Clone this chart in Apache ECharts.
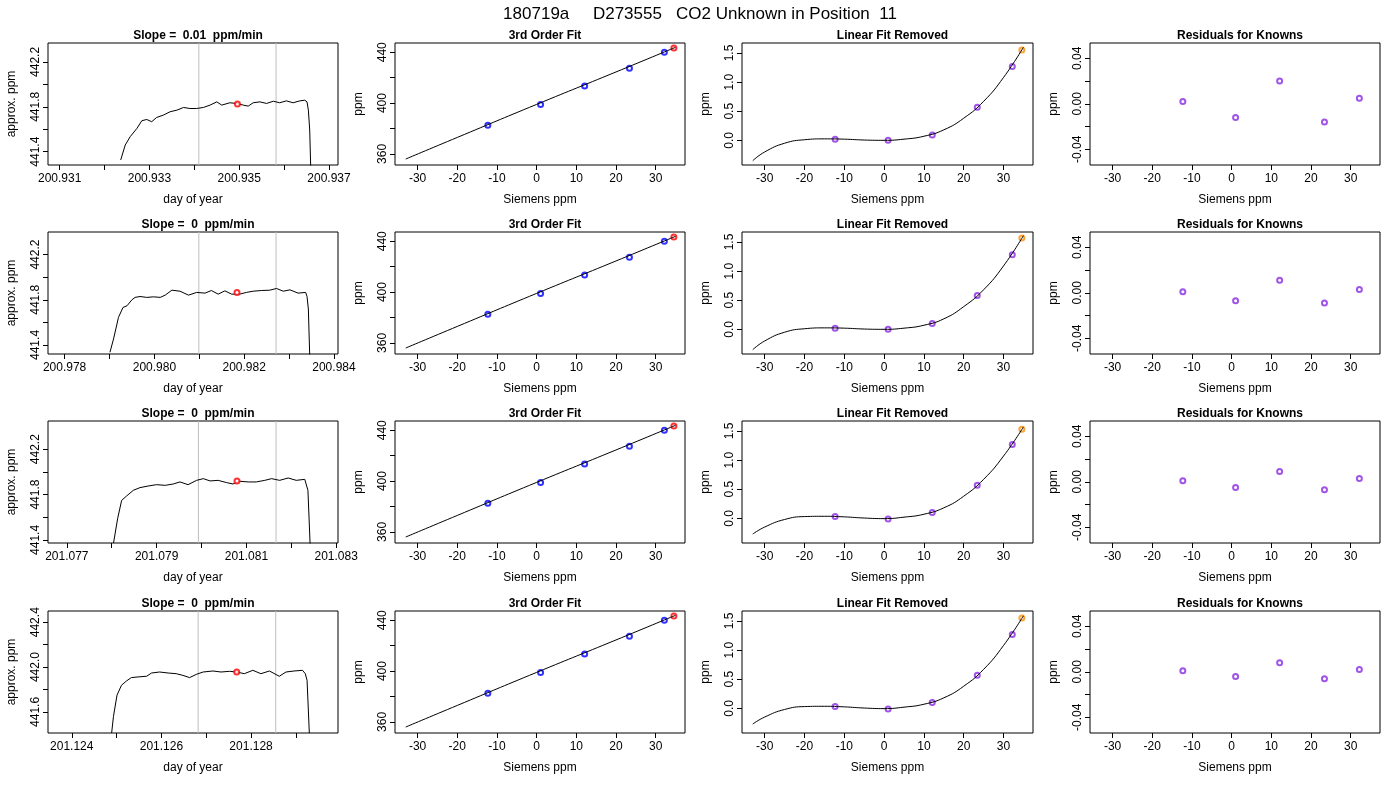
<!DOCTYPE html>
<html><head><meta charset="utf-8">
<script src="https://cdn.jsdelivr.net/npm/echarts@6/dist/echarts.min.js"></script>
<style>html,body{margin:0;padding:0;background:#fff}#c{width:1400px;height:800px}</style>
</head><body><div id="c"></div>
<script>
// ---------- DATA ----------
const mainTitle = "180719a     D273555   CO2 Unknown in Position  11";
const slopeTitles = ["Slope =  0.01  ppm/min","Slope =  0  ppm/min","Slope =  0  ppm/min","Slope =  0  ppm/min"];

const trace1 = [[200.93236,441.326],[200.93246,441.459],[200.93257,441.533],[200.93272,441.607],[200.93283,441.676],[200.93294,441.687],[200.93305,441.667],[200.93316,441.705],[200.93331,441.726],[200.93346,441.756],[200.93361,441.770],[200.93376,441.794],[200.93390,441.785],[200.93405,441.785],[200.93420,441.794],[200.93435,441.815],[200.93450,441.844],[200.93461,441.815],[200.93479,441.836],[200.93494,441.830],[200.93509,441.815],[200.93520,441.806],[200.93531,441.836],[200.93546,441.844],[200.93561,441.830],[200.93576,441.850],[200.93590,441.836],[200.93605,441.853],[200.93620,441.836],[200.93635,441.853],[200.93646,441.859],[200.93651,441.844],[200.93654,441.770],[200.93657,441.593],[200.93660,441.148]];
const trace2 = [[200.97901,441.335],[200.97909,441.453],[200.97920,441.644],[200.97930,441.732],[200.97939,441.747],[200.97950,441.800],[200.97957,441.821],[200.97968,441.829],[200.97983,441.821],[200.97998,441.826],[200.98013,441.821],[200.98024,441.841],[200.98039,441.885],[200.98057,441.876],[200.98076,441.841],[200.98094,441.865],[200.98113,441.859],[200.98127,441.882],[200.98142,441.850],[200.98157,441.879],[200.98172,441.850],[200.98190,441.850],[200.98205,441.865],[200.98220,441.876],[200.98239,441.882],[200.98257,441.885],[200.98272,441.900],[200.98287,441.876],[200.98302,441.888],[200.98320,441.859],[200.98337,441.865],[200.98340,441.829],[200.98343,441.718],[200.98346,441.306]];
const trace3 = [[201.07804,441.373],[201.07813,441.586],[201.07822,441.748],[201.07833,441.787],[201.07848,441.837],[201.07863,441.861],[201.07881,441.875],[201.07900,441.887],[201.07919,441.881],[201.07937,441.893],[201.07952,441.911],[201.07970,441.887],[201.07989,441.925],[201.08004,441.940],[201.08019,441.920],[201.08037,441.925],[201.08056,441.905],[201.08070,441.893],[201.08085,441.917],[201.08104,441.911],[201.08122,441.911],[201.08141,441.925],[201.08156,441.940],[201.08174,441.925],[201.08193,441.946],[201.08211,441.925],[201.08230,441.934],[201.08233,441.925],[201.08237,441.837],[201.08242,441.350]];
const trace4 = [[201.12489,441.412],[201.12493,441.559],[201.12501,441.750],[201.12511,441.838],[201.12522,441.876],[201.12533,441.906],[201.12548,441.912],[201.12567,441.918],[201.12578,441.947],[201.12596,441.956],[201.12615,441.947],[201.12633,441.941],[201.12648,441.926],[201.12663,441.906],[201.12678,441.935],[201.12693,441.956],[201.12715,441.965],[201.12733,441.956],[201.12752,441.962],[201.12768,441.956],[201.12785,441.941],[201.12804,441.971],[201.12822,441.941],[201.12841,441.965],[201.12863,441.918],[201.12878,441.956],[201.12896,441.965],[201.12915,441.971],[201.12921,441.941],[201.12925,441.882],[201.12930,441.412]];
const traces = [trace1, trace2, trace3, trace4];
const tracePoint = [[200.93496,441.824],[200.98184,441.865],[201.08079,441.920],[201.12768,441.956]];
const windowLines = [[200.93410,200.93582],[200.98099,200.98271],[201.07993,201.08166],[201.12682,201.12855]];
const traceXRange = [[200.93074,200.9372],[200.97763,200.98409],[201.07658,201.08304],[201.12347,201.12994]];
const traceYRange = [[441.281,442.369],[441.32,442.4],[441.373,442.448],[441.412,442.5]];
const traceXTicks = [
  [200.931,200.932,200.933,200.934,200.935,200.936,200.937],
  [200.978,200.979,200.980,200.981,200.982,200.983,200.984],
  [201.077,201.078,201.079,201.080,201.081,201.082,201.083],
  [201.124,201.125,201.126,201.127,201.128,201.129]];
const traceYTicks = [[441.4,441.6,441.8,442.0,442.2],[441.4,441.6,441.8,442.0,442.2],[441.4,441.6,441.8,442.0,442.2],[441.6,441.8,442.0,442.2,442.4]];
const traceYLabels = [[441.4,441.8,442.2],[441.4,441.8,442.2],[441.4,441.8,442.2],[441.6,442.0,442.4]];

const siemensKnown = [-12.3, 1.0, 12.1, 23.4, 32.2];
const siemensUnknown = 34.6;
const fitKnownPpm = [382.5, 399.0, 413.5, 427.5, 440.0];
const fitUnknownPpm = 443.3;
const fitCurveX = [-33, -20, 0, 20, 35];
const fitCurveY = [356.0, 373.0, 399.0, 424.5, 443.9];

const linRemKnown = [[0.02,0.0,0.09,0.57,1.27],[0.02,0.0,0.10,0.58,1.28],[0.03,-0.01,0.10,0.57,1.27],[0.03,-0.01,0.10,0.57,1.27]];
const linRemUnknown = [1.55, 1.57, 1.53, 1.55];
const linCurveX = [-33,-30,-25,-20,-15,-10,-5,0,5,10,15,20,25,30,35];
const linCurveY = [
  [-0.35,-0.20,-0.05,0.01,0.025,0.02,0.005,0.0,0.02,0.07,0.18,0.38,0.67,1.08,1.60],
  [-0.35,-0.20,-0.05,0.01,0.025,0.02,0.005,0.0,0.02,0.07,0.18,0.39,0.68,1.09,1.61],
  [-0.27,-0.15,-0.02,0.03,0.035,0.025,0.005,-0.005,0.02,0.07,0.18,0.38,0.67,1.07,1.57],
  [-0.27,-0.15,-0.02,0.03,0.035,0.025,0.005,-0.005,0.02,0.07,0.18,0.38,0.67,1.08,1.59]];

const residuals = [[0.002,-0.012,0.020,-0.016,0.005],[0.001,-0.007,0.011,-0.009,0.003],[0.001,-0.005,0.009,-0.007,0.003],[0.001,-0.004,0.008,-0.006,0.002]];
const siemensTicks = [-30,-20,-10,0,10,20,30];

// ---------- LAYOUT ----------
const colX = [[48,338],[395,685],[742,1033],[1090,1380]];
const rowTop = [43,232,421,611];
const boxH = 122;
const FONT = "Liberation Sans, Arial, sans-serif";

const grids=[], xAxes=[], yAxes=[], series=[], titles=[];
titles.push({text: mainTitle, left:'center', top:1, textStyle:{fontFamily:FONT,fontSize:17,fontWeight:'normal',color:'#000'}});

function addPanel(r,c,title,xr,yr,xTicks,xLabels,yTicks,yLabels,xName,yName,xDec,yDec){
  const idx = grids.length;
  const [l,rt] = colX[c];
  grids.push({left:l, top:rowTop[r], width:rt-l, height:boxH, show:true, borderColor:'#000', borderWidth:1, backgroundColor:'transparent'});
  titles.push({text:title, left:(l+rt)/2, top:rowTop[r]-18, textAlign:'center', textStyle:{fontFamily:FONT,fontSize:12,fontWeight:'bold',color:'#000'}});
  xAxes.push({type:'value', gridIndex:idx, min:xr[0], max:xr[1], position:'bottom', splitLine:{show:false},
    axisLine:{show:false, onZero:false}, axisTick:{show:true, length:5, customValues:xTicks, lineStyle:{color:'#000'}},
    axisLabel:{customValues:xLabels, margin:8, fontFamily:FONT, fontSize:12, color:'#000', formatter:v=>(+v).toFixed(xDec)},
    name:xName, nameLocation:'middle', nameGap:29, nameTextStyle:{fontFamily:FONT,fontSize:12,color:'#000'}});
  yAxes.push({type:'value', gridIndex:idx, min:yr[0], max:yr[1], position:'left', splitLine:{show:false},
    axisLine:{show:false, onZero:false}, axisTick:{show:true, length:5, customValues:yTicks, lineStyle:{color:'#000'}},
    axisLabel:{customValues:yLabels, rotate:90, margin:6, fontFamily:FONT, fontSize:12, color:'#000', formatter:v=>(+v).toFixed(yDec), verticalAlign:'bottom', align:'center'},
    name:yName, nameLocation:'middle', nameGap:30, nameTextStyle:{fontFamily:FONT,fontSize:12,color:'#000'}});
  return idx;
}

for(let r=0;r<4;r++){
  const xt = traceXTicks[r];
  const xl = xt.filter((v,i)=>i%2===0);
  let g = addPanel(r,0,slopeTitles[r],traceXRange[r],traceYRange[r],xt,xl,traceYTicks[r],traceYLabels[r],'day of year','approx. ppm',3,1);
  windowLines[r].forEach(v=>{
    series.push({type:'line', xAxisIndex:g, yAxisIndex:g, data:[[v,traceYRange[r][0]],[v,traceYRange[r][1]]], showSymbol:false, silent:true, lineStyle:{color:'#bebebe',width:1}, z:1});
  });
  series.push({type:'line', xAxisIndex:g, yAxisIndex:g, data:traces[r], showSymbol:false, lineStyle:{color:'#000',width:1}, clip:true, silent:true, z:2});
  series.push({type:'scatter', xAxisIndex:g, yAxisIndex:g, data:[tracePoint[r]], symbol:'emptyCircle', symbolSize:5, itemStyle:{color:'#ff0000',borderColor:'#ff0000',borderWidth:1}, z:3});

  g = addPanel(r,1,'3rd Order Fit',[-35.7,37.4],[351.3,447.3],siemensTicks,siemensTicks,[360,380,400,420,440],[360,400,440],'Siemens ppm','ppm',0,0);
  series.push({type:'line', xAxisIndex:g, yAxisIndex:g, data:fitCurveX.map((x,i)=>[x,fitCurveY[i]]), showSymbol:false, smooth:true, lineStyle:{color:'#000',width:1}});
  series.push({type:'scatter', xAxisIndex:g, yAxisIndex:g, data:siemensKnown.map((x,i)=>[x,fitKnownPpm[i]]), symbol:'emptyCircle', symbolSize:5, itemStyle:{color:'#0000ff',borderColor:'#0000ff',borderWidth:1}});
  series.push({type:'scatter', xAxisIndex:g, yAxisIndex:g, data:[[siemensUnknown,fitUnknownPpm]], symbol:'emptyCircle', symbolSize:5, itemStyle:{color:'#ff0000',borderColor:'#ff0000',borderWidth:1}});

  g = addPanel(r,2,'Linear Fit Removed',[-35.7,37.4],[-0.424,1.672],siemensTicks,siemensTicks,[0,0.5,1,1.5],[0,0.5,1,1.5],'Siemens ppm','ppm',0,1);
  series.push({type:'line', xAxisIndex:g, yAxisIndex:g, data:linCurveX.map((x,i)=>[x,linCurveY[r][i]]), showSymbol:false, smooth:true, lineStyle:{color:'#000',width:1}});
  series.push({type:'scatter', xAxisIndex:g, yAxisIndex:g, data:siemensKnown.map((x,i)=>[x,linRemKnown[r][i]]), symbol:'emptyCircle', symbolSize:5, itemStyle:{color:'#8a2be2',borderColor:'#8a2be2',borderWidth:1.2}});
  series.push({type:'scatter', xAxisIndex:g, yAxisIndex:g, data:[[siemensUnknown,linRemUnknown[r]]], symbol:'emptyCircle', symbolSize:5, itemStyle:{color:'#ff8c00',borderColor:'#ff8c00',borderWidth:1.2}});

  g = addPanel(r,3,'Residuals for Knowns',[-35.7,37.4],[-0.0538,0.0535],siemensTicks,siemensTicks,[-0.04,-0.02,0,0.02,0.04],[-0.04,0,0.04],'Siemens ppm','ppm',0,2);
  series.push({type:'scatter', xAxisIndex:g, yAxisIndex:g, data:siemensKnown.map((x,i)=>[x,residuals[r][i]]), symbol:'emptyCircle', symbolSize:5, itemStyle:{color:'#8a2be2',borderColor:'#8a2be2',borderWidth:1.2}});
}

const chart = echarts.init(document.getElementById('c'));
chart.setOption({animation:false, backgroundColor:'#fff', title:titles, grid:grids, xAxis:xAxes, yAxis:yAxes, series:series});
</script></body></html>
